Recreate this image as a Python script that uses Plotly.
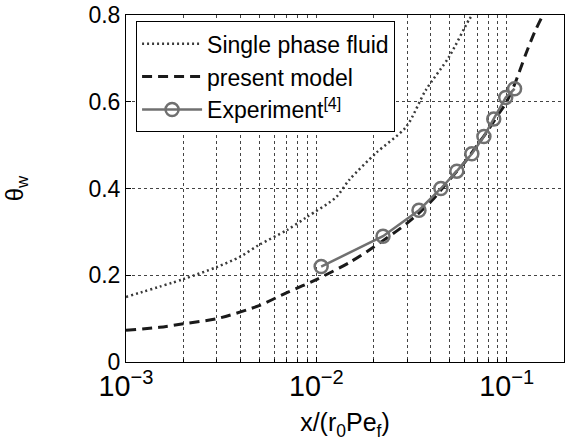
import plotly.graph_objects as go

# Single phase fluid (dotted)
single_x = [0.001, 0.002, 0.003, 0.00395, 0.005, 0.007, 0.0089, 0.0127, 0.0149, 0.0206, 0.0296, 0.0376, 0.0497, 0.0632, 0.066]
single_y = [0.150, 0.191, 0.219, 0.242, 0.270, 0.304, 0.334, 0.380, 0.420, 0.482, 0.542, 0.627, 0.703, 0.788, 0.800]

# present model (dashed)
model_x = [0.001, 0.0015, 0.002, 0.003, 0.005, 0.007, 0.01, 0.015, 0.02, 0.03, 0.04, 0.05, 0.06, 0.07, 0.08, 0.09, 0.1, 0.11, 0.126, 0.14, 0.155]
model_y = [0.073, 0.080, 0.088, 0.100, 0.130, 0.160, 0.190, 0.230, 0.265, 0.320, 0.370, 0.420, 0.460, 0.500, 0.535, 0.570, 0.600, 0.640, 0.710, 0.760, 0.800]

# Experiment [4]
exp_x = [0.0106, 0.0224, 0.0346, 0.0451, 0.0547, 0.0656, 0.0759, 0.0855, 0.0988, 0.110]
exp_y = [0.22, 0.29, 0.35, 0.40, 0.44, 0.48, 0.52, 0.56, 0.61, 0.63]

FONT = "Liberation Sans, Arial, sans-serif"

fig = go.Figure()
fig.add_trace(go.Scatter(x=single_x, y=single_y, mode="lines", name="Single phase fluid",
                         line=dict(color="#3a3a3a", width=2.5, dash="2px,3px", shape="spline", smoothing=0.8)))
fig.add_trace(go.Scatter(x=model_x, y=model_y, mode="lines", name="present model",
                         line=dict(color="#1a1a1a", width=3, dash="10px,6px", shape="spline", smoothing=0.8)))
fig.add_trace(go.Scatter(x=exp_x, y=exp_y, mode="lines+markers", name="Experiment<sup>[4]</sup>",
                         line=dict(color="#707070", width=2.5),
                         marker=dict(symbol="circle-open", size=13, color="#707070",
                                     line=dict(width=2.5, color="#707070"))))

grid = dict(showgrid=True, gridcolor="#444444", gridwidth=1, griddash="dot")

fig.update_layout(
    width=571, height=446,
    margin=dict(l=126, r=7, t=15, b=84, autoexpand=False),
    paper_bgcolor="white", plot_bgcolor="white",
    font=dict(family=FONT, size=23, color="black"),
    showlegend=True,
    legend=dict(x=0.023, y=0.982, xanchor="left", yanchor="top",
                bgcolor="white", bordercolor="black", borderwidth=1,
                itemwidth=60,
                font=dict(size=23, family=FONT), tracegroupgap=0),
    xaxis=dict(type="log", range=[-3, -0.699], dtick=1, exponentformat="power",
               showline=True, linecolor="black", linewidth=1, mirror=True,
               ticks="inside", ticklen=5, tickcolor="black",
               tickfont=dict(size=23, family=FONT), ticklabeloverflow="allow",
               title=dict(text="x/(r<sub>0</sub>Pe<sub>f</sub>)", font=dict(size=25, family=FONT), standoff=12),
               minor=dict(dtick="D1", showgrid=True, gridcolor="#444444", gridwidth=1, griddash="dot",
                          ticks="inside", ticklen=3, tickcolor="black"),
               zeroline=False, **grid),
    yaxis=dict(range=[0, 0.8], dtick=0.2, tickformat="~g",
               showline=True, linecolor="black", linewidth=1, mirror=True,
               ticks="inside", ticklen=5, tickcolor="black",
               tickfont=dict(size=23, family=FONT), ticklabeloverflow="allow",
               title=dict(text="θ<sub>w</sub>", font=dict(size=24, family=FONT), standoff=58),
               zeroline=False, **grid),
)

fig.write_html("out.html", config={"displayModeBar": False},
               post_script="document.body.style.margin='0';")
